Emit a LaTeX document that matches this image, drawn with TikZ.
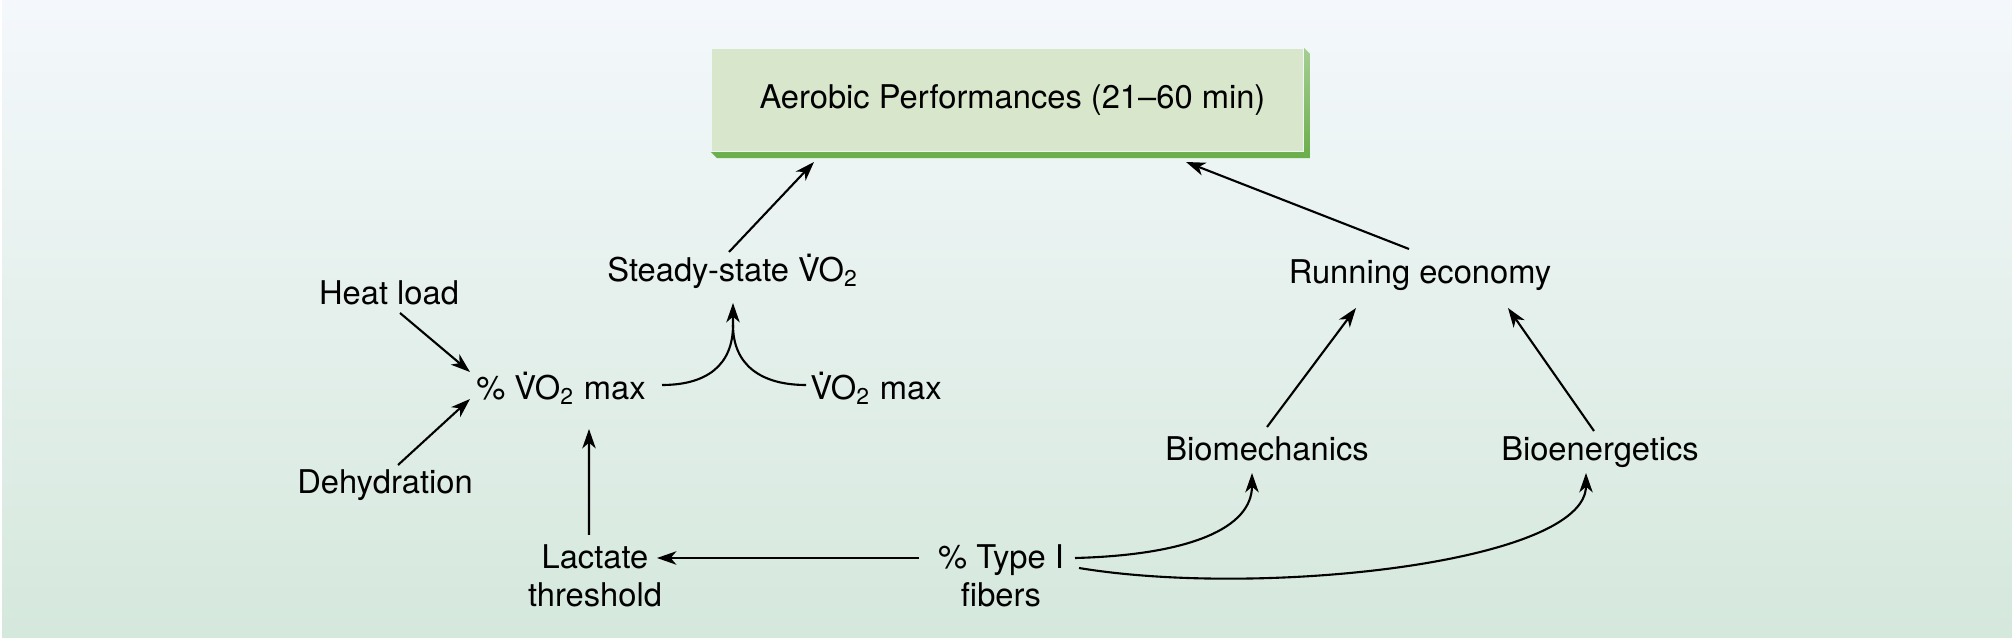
\documentclass[tikz,border=0pt]{standalone}
\usepackage{amsmath}
\usepackage{fontspec}
\setmainfont{TeX Gyre Heros}
\usepackage{tikz}
\usetikzlibrary{arrows.meta}
\definecolor{bgtop}{RGB}{244,248,252}
\definecolor{bgbot}{RGB}{213,232,220}
\definecolor{boxface}{RGB}{216,230,203}
\definecolor{boxside}{RGB}{106,174,74}
\newcommand{\vdotV}{\leavevmode\setbox0\hbox{V}\rlap{\hbox to \wd0{\hss\smash{\raisebox{0.74em}{.}}\hss}}V}
\newcommand{\vo}{\vdotV O\textsubscript{2}}

\begin{document}
\begin{tikzpicture}[>={Stealth[length=5.5pt,width=3.8pt,inset=1.6pt]}, line width=0.6pt, every node/.style={font=\fontsize{9.3}{11}\selectfont, inner sep=2pt, align=center}]
  \shade [top color=bgtop, bottom color=bgbot] (0,0) rectangle (20.12,6.38);
  \fill [white] (0,0) rectangle (0.02,6.38);
  \node (perf) [fill=boxface, minimum width=5.91cm, minimum height=1.02cm, inner sep=0pt] at (10.075,5.38) {\hspace*{0.1cm}Aerobic Performances (21--60 min)};
  \shade [top color=boxside!60, bottom color=boxside] (perf.north east) -- ([shift={(0.06,-0.06)}]perf.north east) -- ([shift={(0.06,-0.06)}]perf.south east) -- ([shift={(0.06,-0.06)}]perf.south west) -- (perf.south west) -- (perf.south east) -- cycle;
  \node (ss) at (7.33,3.65) {Steady-state \vo};
  \node (heat) at (3.89,3.45) {Heat load};
  \node (pvo) at (5.61,2.48) {\% \vo\ max};
  \node (vo) at (8.76,2.48) {\vo\ max};
  \node (dehyd) at (3.85,1.53) {Dehydration};
  \node (lact) at (5.95,0.62) {Lactate\\threshold};
  \node (type) at (10.01,0.62) {\% Type I\\fibers};
  \node (run) at (14.20,3.63) {Running economy};
  \node (biom) at (12.67,1.89) {Biomechanics};
  \node (bioe) at (16.00,1.86) {Bioenergetics};
  \coordinate (mrg) at ([shift={(0,-0.52)}]ss.center);
  \draw [->] ([shift={(-0.04,0.21)}]ss.center) -- ([shift={(-1.935,-0.62)}]perf.center);
  \draw [->] ([shift={(-0.11,0.26)}]run.center) -- ([shift={(1.785,-0.62)}]perf.center);
  \draw [->] ([shift={(0.11,-0.20)}]heat.center) -- ([shift={(-0.91,0.18)}]pvo.center);
  \draw [->] ([shift={(0.13,0.20)}]dehyd.center) -- ([shift={(-0.91,-0.09)}]pvo.center);
  \draw [->] ([shift={(-0.06,0.41)}]lact.center) -- ([shift={(0.28,-0.39)}]pvo.center);
  \draw [->] ([shift={(1.01,0.05)}]pvo.center) .. controls +(0.45,0) and +(0,-0.4) .. (mrg) -- ([shift={(0,-0.30)}]ss.center);
  \draw ([shift={(-0.70,0.05)}]vo.center) .. controls +(-0.45,0) and +(0,-0.4) .. (mrg);
  \draw [->] ([shift={(0,0.22)}]biom.center) -- ([shift={(-0.64,-0.33)}]run.center);
  \draw [->] ([shift={(-0.06,0.21)}]bioe.center) -- ([shift={(0.88,-0.33)}]run.center);
  \draw [->] ([shift={(-0.82,0.18)}]type.center) -- ([shift={(0.62,0.18)}]lact.center);
  \draw [->] ([shift={(0.74,0.18)}]type.center) .. controls +(1.15,0.03) and +(0,-0.55) .. ([shift={(-0.15,-0.24)}]biom.center);
  \draw [->] ([shift={(0.78,0.08)}]type.center) .. controls (12.6,0.40) and (15.86,0.75) .. ([shift={(-0.14,-0.21)}]bioe.center);
\end{tikzpicture}
\end{document}
